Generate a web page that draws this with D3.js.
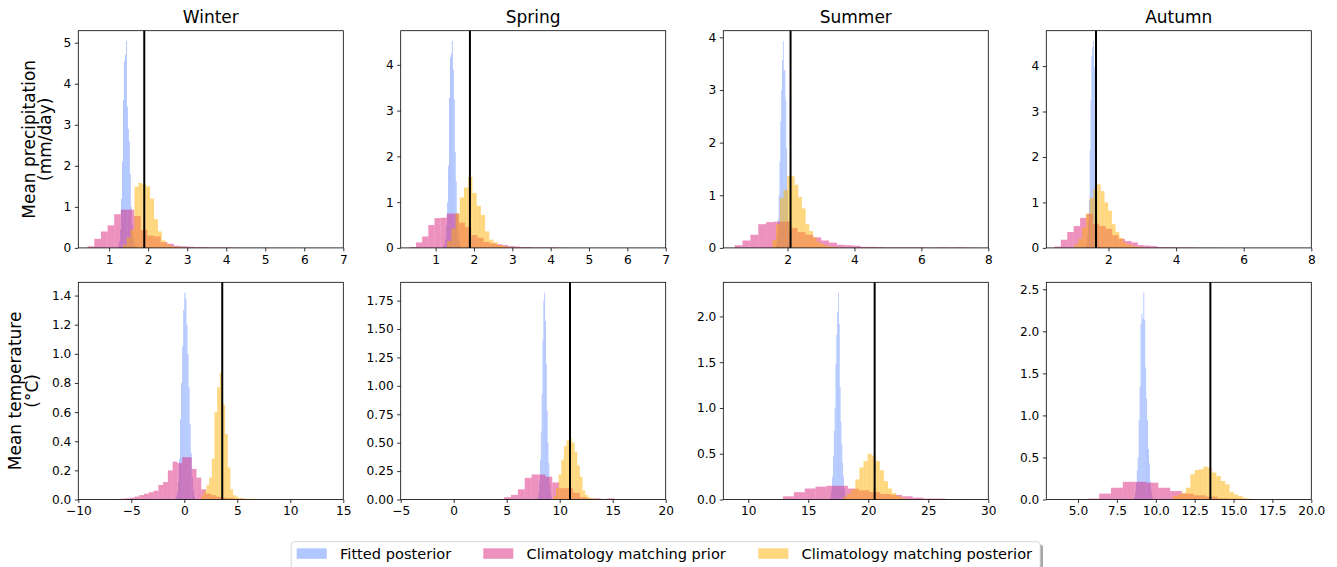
<!DOCTYPE html>
<html>
<head>
<meta charset="utf-8">
<script src="https://cdn.jsdelivr.net/npm/d3@7"></script>
<style>
  body { margin: 0; background: #fff; }
  svg { display: block; font-family: "DejaVu Sans", sans-serif; }
</style>
</head>
<body>
<svg id="chart" width="1337" height="567"></svg>
<script>
// Seasonal posterior / prior histograms

const seasons = ['Winter', 'Spring', 'Summer', 'Autumn'];
const seriesNames = ['Fitted posterior', 'Climatology matching prior', 'Climatology matching posterior'];

// observed values (black lines)
const observedPrecip = [1.90, 1.895, 2.09, 1.63];
const observedTemp = [3.58, 10.97, 20.53, 13.51];

// histograms: x0 = first bin edge, dx = bin width, h = density per bin
const precipFitted = [
  { x0: 1.23, dx: 0.025, h: [0.05, 0.15, 0.45, 1.2, 2.1, 3.6, 4.55, 4.7, 5.04, 3.45, 2.9, 2.6, 1.8, 1.0, 0.55, 0.25, 0.1, 0.03] },
  { x0: 1.20, dx: 0.025, h: [0.03, 0.08, 0.2, 0.5, 1.0, 1.8, 3.28, 4.16, 4.25, 4.52, 3.9, 3.25, 2.1, 1.45, 0.75, 0.35, 0.15, 0.05, 0.02] },
  { x0: 1.66, dx: 0.025, h: [0.05, 0.2, 0.55, 1.0, 1.64, 2.4, 3.0, 3.57, 3.93, 3.38, 3.37, 2.8, 1.9, 1.1, 0.5, 0.2, 0.06] },
  { x0: 1.32, dx: 0.025, h: [0.03, 0.1, 0.3, 0.6, 1.05, 2.15, 3.25, 4.23, 4.42, 4.55, 3.98, 2.88, 2.0, 1.2, 0.6, 0.25, 0.08, 0.02] }
];
const precipPrior = [
  { x0: 0.45, dx: 0.17, h: [0.04, 0.22, 0.40, 0.55, 0.82, 0.93, 0.93, 0.78, 0.44, 0.30, 0.28, 0.14, 0.10, 0.05, 0.04, 0.03, 0.02, 0.02, 0.01, 0.01, 0.01, 0.01, 0.005, 0.005, 0.005, 0.005, 0.005] },
  { x0: 0.33, dx: 0.16, h: [0.02, 0.12, 0.25, 0.50, 0.65, 0.66, 0.75, 0.75, 0.55, 0.45, 0.28, 0.22, 0.13, 0.10, 0.08, 0.06, 0.04, 0.03, 0.02, 0.02, 0.01, 0.01, 0.01, 0.01, 0.005, 0.005] },
  { x0: 0.42, dx: 0.235, h: [0.05, 0.14, 0.25, 0.45, 0.49, 0.50, 0.50, 0.38, 0.30, 0.25, 0.20, 0.14, 0.10, 0.06, 0.05, 0.04, 0.02, 0.02, 0.015, 0.01, 0.01, 0.01, 0.01, 0.01, 0.005, 0.005, 0.01, 0.005, 0.01, 0.005, 0.005] },
  { x0: 0.40, dx: 0.19, h: [0.03, 0.18, 0.35, 0.48, 0.66, 0.75, 0.52, 0.48, 0.42, 0.28, 0.20, 0.15, 0.12, 0.06, 0.05, 0.04, 0.02, 0.02, 0.015, 0.01, 0.01, 0.01, 0.005, 0.005, 0.005, 0.005] }
];
const precipPosterior = [
  { x0: 1.35, dx: 0.10, h: [0.08, 0.25, 0.45, 1.49, 1.58, 1.55, 1.50, 1.20, 0.70, 0.40, 0.18, 0.10, 0.05, 0.03, 0.02, 0.01, 0.01, 0.005, 0.005, 0.005, 0.005] },
  { x0: 1.30, dx: 0.11, h: [0.15, 0.42, 0.75, 1.10, 1.32, 1.55, 1.20, 0.92, 0.72, 0.36, 0.18, 0.12, 0.06, 0.04, 0.02, 0.01] },
  { x0: 1.55, dx: 0.11, h: [0.15, 0.45, 0.95, 1.10, 1.37, 1.36, 1.20, 0.97, 0.75, 0.45, 0.32, 0.20, 0.12, 0.08, 0.05, 0.03, 0.02, 0.01] },
  { x0: 1.00, dx: 0.11, h: [0.08, 0.20, 0.45, 0.75, 1.10, 1.30, 1.40, 1.25, 1.00, 0.82, 0.52, 0.35, 0.22, 0.12, 0.08, 0.05, 0.03, 0.02, 0.01] }
];
const tempFitted = [
  { x0: -0.80, dx: 0.10, h: [0.02, 0.05, 0.12, 0.28, 0.55, 0.80, 1.05, 1.30, 1.42, 1.38, 1.20, 1.00, 0.77, 0.52, 0.32, 0.15, 0.06, 0.02] },
  { x0: 7.90, dx: 0.08, h: [0.02, 0.06, 0.15, 0.35, 0.60, 0.93, 1.40, 1.75, 1.82, 1.57, 1.19, 0.78, 0.50, 0.32, 0.15, 0.06, 0.02] },
  { x0: 16.85, dx: 0.07, h: [0.03, 0.10, 0.25, 0.47, 0.75, 1.00, 1.48, 1.80, 2.05, 2.26, 1.92, 1.23, 0.85, 0.60, 0.40, 0.25, 0.12, 0.05, 0.02] },
  { x0: 8.60, dx: 0.06, h: [0.03, 0.08, 0.20, 0.35, 0.50, 0.94, 1.34, 2.09, 2.21, 2.15, 2.46, 2.13, 1.57, 1.20, 0.94, 0.60, 0.43, 0.22, 0.10, 0.04] }
];
const tempPrior = [
  { x0: -6.50, dx: 0.45, h: [0.003, 0.005, 0.008, 0.012, 0.02, 0.03, 0.04, 0.05, 0.06, 0.10, 0.12, 0.20, 0.26, 0.25, 0.29, 0.29, 0.21, 0.15, 0.07, 0.04, 0.03, 0.02, 0.015, 0.01, 0.01, 0.005, 0.005, 0.003] },
  { x0: 4.10, dx: 0.65, h: [0.005, 0.02, 0.04, 0.09, 0.19, 0.22, 0.22, 0.20, 0.15, 0.10, 0.10, 0.06, 0.02, 0.01, 0.01, 0.005, 0.01, 0.003, 0.003, 0.002] },
  { x0: 11.10, dx: 0.90, h: [0.003, 0.005, 0.035, 0.08, 0.12, 0.14, 0.15, 0.15, 0.12, 0.10, 0.08, 0.06, 0.05, 0.035, 0.02, 0.01, 0.01, 0.005, 0.003] },
  { x0: 5.60, dx: 0.76, h: [0.01, 0.07, 0.14, 0.21, 0.21, 0.20, 0.14, 0.10, 0.07, 0.05, 0.035, 0.015, 0.01, 0.005, 0.005, 0.003, 0.002, 0.002, 0.001] }
];
const tempPosterior = [
  { x0: 1.60, dx: 0.25, h: [0.03, 0.06, 0.10, 0.15, 0.28, 0.60, 0.77, 0.87, 0.65, 0.45, 0.22, 0.07, 0.03, 0.02, 0.01, 0.01, 0.005, 0.005, 0.005, 0.005, 0.005] },
  { x0: 9.40, dx: 0.25, h: [0.03, 0.10, 0.22, 0.35, 0.47, 0.52, 0.54, 0.50, 0.42, 0.30, 0.20, 0.08, 0.04, 0.02, 0.01, 0.01, 0.005] },
  { x0: 17.90, dx: 0.34, h: [0.03, 0.06, 0.11, 0.22, 0.35, 0.42, 0.50, 0.48, 0.42, 0.32, 0.20, 0.12, 0.07, 0.04, 0.02, 0.01] },
  { x0: 11.10, dx: 0.28, h: [0.04, 0.06, 0.08, 0.14, 0.30, 0.35, 0.36, 0.39, 0.38, 0.32, 0.28, 0.22, 0.18, 0.09, 0.06, 0.04, 0.02, 0.01, 0.005, 0.003] }
];

// axis setup
const precipXDomain = [[0.21, 7], [0.09, 7], [0.08, 8], [0.16, 8]];
const tempXDomain = [[-10, 15], [-5, 20], [7.92, 30], [2.96, 20]];
const precipXTicks = [[1, 2, 3, 4, 5, 6, 7], [1, 2, 3, 4, 5, 6, 7], [2, 4, 6, 8], [2, 4, 6, 8]];
const tempXTicks = [[-10, -5, 0, 5, 10, 15], [-5, 0, 5, 10, 15, 20], [10, 15, 20, 25, 30], [5, 7.5, 10, 12.5, 15, 17.5, 20]];
const precipYTicks = [[0, 1, 2, 3, 4, 5], [0, 1, 2, 3, 4], [0, 1, 2, 3, 4], [0, 1, 2, 3, 4]];
const tempYTicks = [[0, 0.2, 0.4, 0.6, 0.8, 1.0, 1.2, 1.4], [0, 0.25, 0.5, 0.75, 1.0, 1.25, 1.5, 1.75], [0, 0.5, 1.0, 1.5, 2.0], [0, 0.5, 1.0, 1.5, 2.0, 2.5]];
const tempXFormat = ['d', 'd', 'd', '.1f'];
const tempYFormat = ['.1f', '.2f', '.1f', '.1f'];

const colours = ['#648FFF', '#DC267F', '#FFB000'];
const alpha = 0.5;

// layout
const colX = [78.3, 400.7, 723.3, 1046.3];
const rowY = [30.7, 282.3];
const panelW = 265;
const panelH = 217.2;
const labelBase = [[34.5, 51.3], [20.7, 37.5]];  // baselines of the two row-label lines

const svg = d3.select('svg#chart');

const rows = [
  { label: ['Mean precipitation', '(mm/day)'], series: [precipFitted, precipPrior, precipPosterior], obs: observedPrecip,
    xDomain: precipXDomain, xTicks: precipXTicks, yTicks: precipYTicks, xFmt: ['d', 'd', 'd', 'd'], yFmt: ['d', 'd', 'd', 'd'] },
  { label: ['Mean temperature', '(°C)'], series: [tempFitted, tempPrior, tempPosterior], obs: observedTemp,
    xDomain: tempXDomain, xTicks: tempXTicks, yTicks: tempYTicks, xFmt: tempXFormat, yFmt: tempYFormat }
];

rows.forEach(function (row, r) {
  for (let c = 0; c < 4; c++) {
    const g = svg.append('g').attr('transform', 'translate(' + colX[c] + ',' + rowY[r] + ')');

    const hists = row.series.map(s => s[c]);
    const yMax = d3.max(hists, d => d3.max(d.h)) * 1.05;

    const x = d3.scaleLinear().domain(row.xDomain[c]).range([0, panelW]);
    const y = d3.scaleLinear().domain([0, yMax]).range([panelH, 0]);

    // bars, one group per series (drawn in legend order)
    hists.forEach(function (hist, k) {
      g.append('g')
        .selectAll('rect')
        .data(hist.h)
        .enter()
        .append('rect')
        .attr('x', (d, i) => x(hist.x0 + i * hist.dx))
        .attr('width', (d, i) => x(hist.x0 + (i + 1) * hist.dx) - x(hist.x0 + i * hist.dx))
        .attr('y', d => y(d))
        .attr('height', d => panelH - y(d))
        .style('fill', colours[k])
        .style('fill-opacity', alpha);
    });

    // observed value
    g.append('line')
      .attr('x1', x(row.obs[c])).attr('x2', x(row.obs[c]))
      .attr('y1', 0).attr('y2', panelH)
      .style('stroke', '#000')
      .style('stroke-width', 2);

    // axes
    const xAxis = d3.axisBottom(x)
      .tickValues(row.xTicks[c])
      .tickFormat(d3.format(row.xFmt[c]))
      .tickSizeInner(3.5).tickSizeOuter(0).tickPadding(3.5);
    const yAxis = d3.axisLeft(y)
      .tickValues(row.yTicks[c])
      .tickFormat(d3.format(row.yFmt[c]))
      .tickSizeInner(3.5).tickSizeOuter(0).tickPadding(3.5);

    const gx = g.append('g').attr('transform', 'translate(0,' + panelH + ')').call(xAxis);
    const gy = g.append('g').call(yAxis);
    [gx, gy].forEach(function (a) {
      a.select('.domain').remove();
      a.selectAll('line').style('stroke', '#000').style('stroke-width', 0.8);
      a.selectAll('text').style('font-size', '12.2px').style('font-family', '"DejaVu Sans", sans-serif').style('fill', '#000');
    });

    // frame
    g.append('rect')
      .attr('width', panelW).attr('height', panelH)
      .style('fill', 'none')
      .style('stroke', '#000')
      .style('stroke-width', 0.8);

    if (r === 0) {
      g.append('text')
        .attr('x', panelW / 2).attr('y', -7.5)
        .attr('text-anchor', 'middle')
        .style('font-size', '17px')
        .text(seasons[c]);
    }
  }

  // row label
  const lab = svg.append('g')
    .attr('transform', 'translate(0,' + (rowY[r] + panelH / 2) + ') rotate(-90)');
  lab.append('text').attr('x', 0).attr('y', labelBase[r][0]).attr('text-anchor', 'middle').style('font-size', '17px').text(row.label[0]);
  lab.append('text').attr('x', 0).attr('y', labelBase[r][1]).attr('text-anchor', 'middle').style('font-size', '17px').text(row.label[1]);
});

// legend
const legend = svg.append('g');
legend.append('rect')
  .attr('x', 294).attr('y', 544.5).attr('width', 749).attr('height', 30).attr('rx', 3)
  .style('fill', '#000').style('fill-opacity', 0.35);
legend.append('rect')
  .attr('x', 291.2).attr('y', 541.7).attr('width', 749).attr('height', 30).attr('rx', 3)
  .style('fill', '#fff').style('stroke', '#cccccc').style('stroke-width', 0.8);

const legendX = [296.7, 483.3, 758.3];
const items = legend.selectAll('g.item')
  .data(seriesNames)
  .enter()
  .append('g')
  .attr('class', 'item')
  .attr('transform', (d, i) => 'translate(' + legendX[i] + ',548.3)');
items.append('rect')
  .attr('width', 30).attr('height', 10.5)
  .style('fill', (d, i) => colours[i])
  .style('fill-opacity', alpha);
items.append('text')
  .attr('x', 43.3).attr('y', 10.6)
  .style('font-size', '14.6px')
  .text(d => d);
</script>
</body>
</html>
